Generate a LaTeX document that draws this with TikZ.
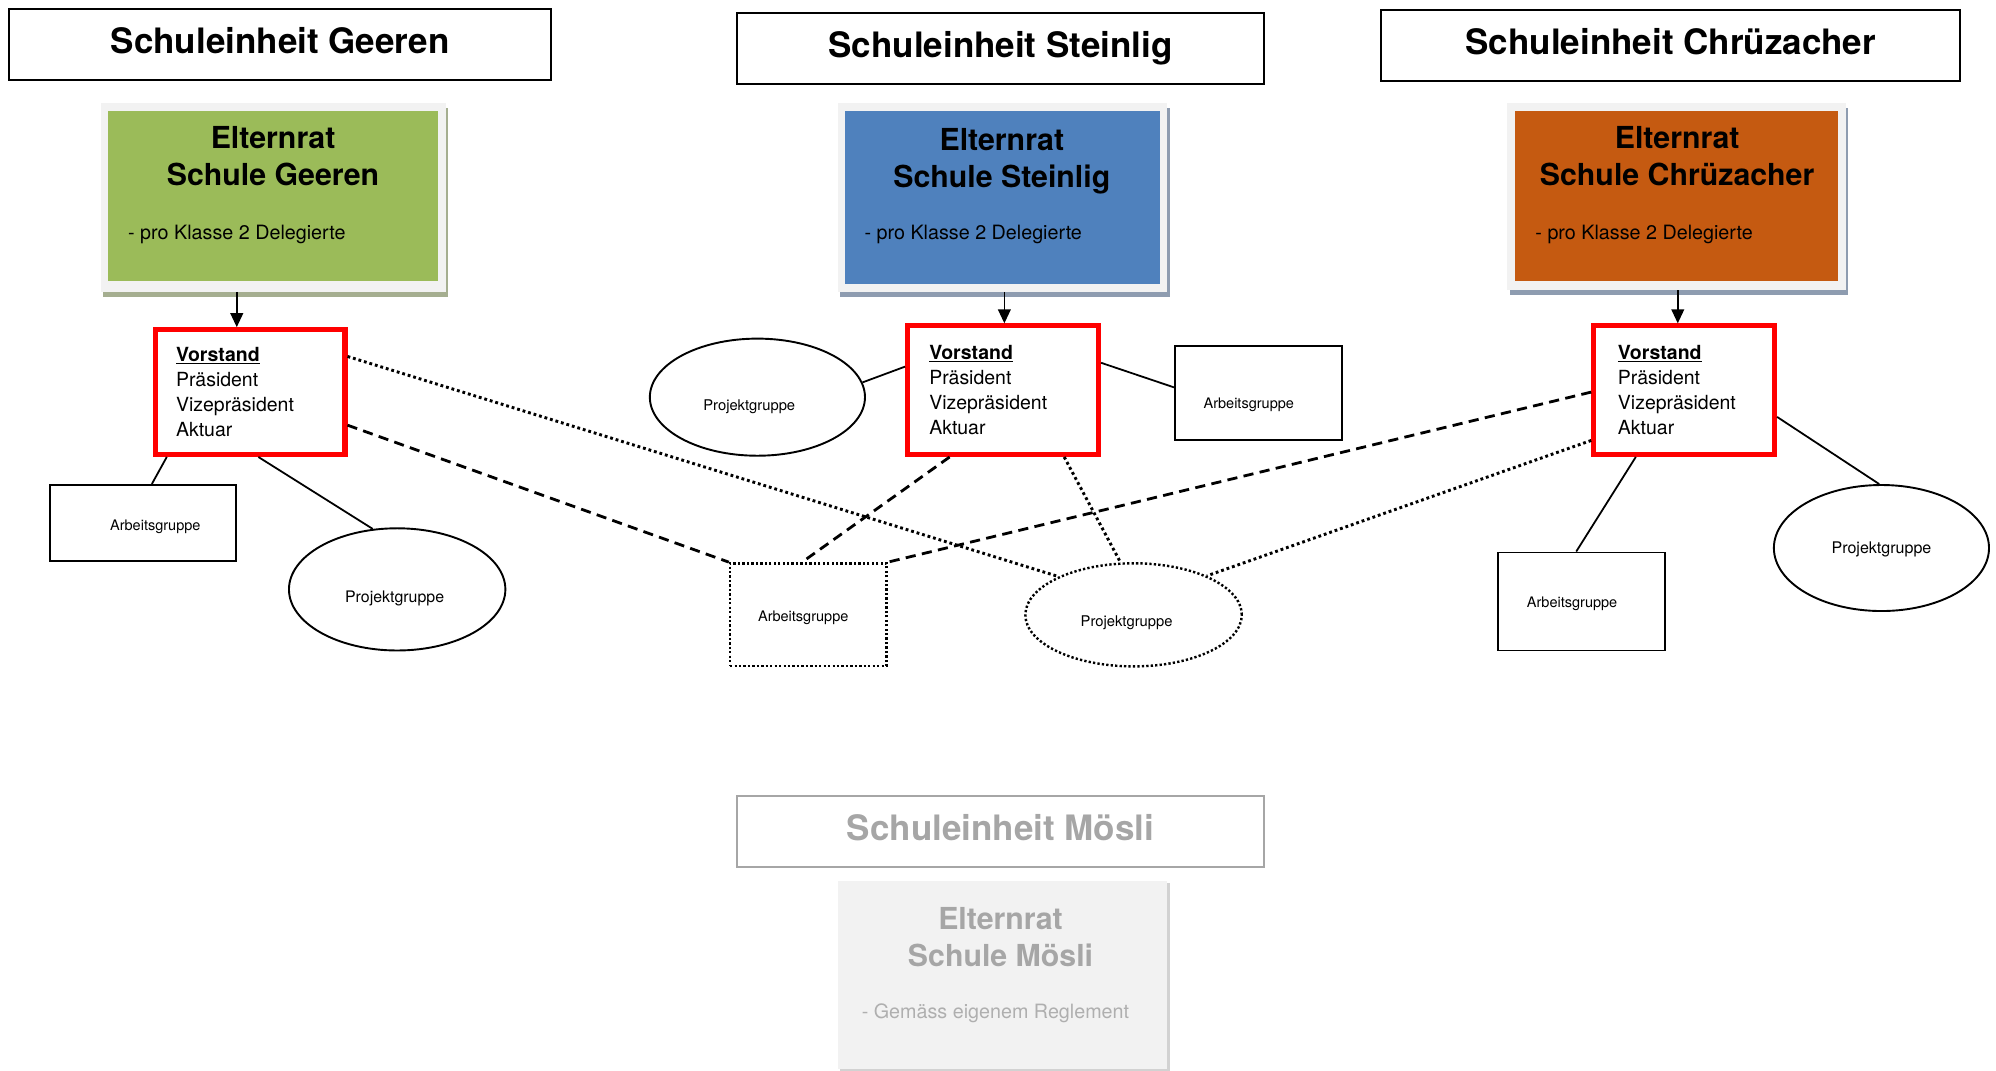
\documentclass[tikz,border=0pt]{standalone}
\usepackage{fontspec}
\setmainfont{TeX Gyre Heros}
\usetikzlibrary{arrows.meta,shapes.geometric,shadows}
\definecolor{egreen}{HTML}{9BBB59}
\definecolor{eblue}{HTML}{4F81BD}
\definecolor{eorange}{HTML}{C55A11}
\definecolor{frameg}{HTML}{F2F2F2}
\definecolor{shadowg}{HTML}{A5AE90}
\definecolor{shadowb}{HTML}{8E9CB0}
\definecolor{shadowm}{HTML}{D2D2D2}
\definecolor{moesli}{HTML}{A6A6A6}
\definecolor{vred}{HTML}{FF0000}
\newcommand\fsz[2]{\fontsize{#1}{#2}\selectfont}
% #1 horizontal (2*dx), #2 raise, #3 font size, #4 text
\newcommand\gtext[4]{\makebox[0pt]{\hspace*{#1}\raisebox{#2}[0pt][0pt]{\fsz{#3}{#3}#4}}}
\newcommand\vtext[1]{\parbox[t]{#1}{\fsz{15.3}{19.7}\underline{\textbf{Vorstand}}\\Präsident\\Vizepräsident\\Aktuar}}
\begin{document}
\begin{tikzpicture}[x=1pt,y=-1pt,
  titlebox/.style={draw=black,line width=1.5pt,inner sep=0,minimum height=56pt,
    text height=19.7pt,text depth=5.3pt,font=\fsz{27.5}{33}\bfseries},
  frame/.style={fill=frameg,inner sep=0},
  innerbox/.style={inner sep=0},
  etitle/.style={anchor=base,inner sep=0},
  esub/.style={anchor=base west,inner sep=0,font=\fsz{15.5}{18}},
  vbox/.style={draw=vred,line width=4pt,inner sep=0,fill=white,minimum height=98pt},
  grp/.style={draw=black,line width=1.5pt,inner sep=0},
  ell/.style={ellipse,draw=black,line width=1.5pt,inner sep=0},
  dotshape/.style={line width=1.9pt,dash pattern=on 1.8pt off 1.7pt},
  conn/.style={line width=1.4pt},
  dashconn/.style={line width=2.2pt,dash pattern=on 8pt off 5pt},
  dotconn/.style={line width=2.3pt,dash pattern=on 2.2pt off 2.3pt},
  arr/.style={line width=1.3pt,-{Triangle[width=10pt,length=11pt]}},
]
\useasboundingbox (0,0) rectangle (1568,841);

% ---- title boxes
\node[titlebox,minimum width=426pt] (tg) at (220,35) {Schuleinheit Geeren};
\node[titlebox,minimum width=414pt] (ts) at (786,38) {Schuleinheit Steinlig};
\node[titlebox,minimum width=455pt] (tc) at (1312.5,35.5) {Schuleinheit Chrüzacher};
\node[titlebox,minimum width=414pt,draw=moesli,text=moesli] (tm) at (786,653) {Schuleinheit Mösli};

% ---- Elternrat boxes
\node[frame,minimum width=271pt,minimum height=148pt,
  general shadow={shadow xshift=2pt,shadow yshift=-4pt,fill=shadowg}] (egf) at (214.5,155) {};
\node[innerbox,fill=egreen,minimum width=259pt,minimum height=134pt] (eg) at (214.5,154) {};
\node[etitle] (egt) at (214.5,117) {\parbox[t]{250pt}{\centering\fsz{23.8}{29}\bfseries Elternrat\\Schule Geeren}};
\node[esub] (egs) at (100.5,188) {- pro Klasse 2 Delegierte};

\node[frame,minimum width=259pt,minimum height=148pt,
  general shadow={shadow xshift=2pt,shadow yshift=-4pt,fill=shadowb}] (esf) at (787.5,155) {};
\node[innerbox,fill=eblue,minimum width=247pt,minimum height=136pt] (es) at (787.5,155) {};
\node[etitle] (est) at (787,118.6) {\parbox[t]{240pt}{\centering\fsz{23.8}{29}\bfseries Elternrat\\Schule Steinlig}};
\node[esub] (ess) at (679,188.5) {- pro Klasse 2 Delegierte};

\node[frame,minimum width=266pt,minimum height=147pt,
  general shadow={shadow xshift=2pt,shadow yshift=-4pt,fill=shadowb}] (ecf) at (1317,154.5) {};
\node[innerbox,fill=eorange,minimum width=254pt,minimum height=134pt] (ec) at (1317,154) {};
\node[etitle] (ect) at (1317.5,117) {\parbox[t]{250pt}{\centering\fsz{23.8}{29}\bfseries Elternrat\\Schule Chrüzacher}};
\node[esub] (ecs) at (1206,188) {- pro Klasse 2 Delegierte};

\node[frame,minimum width=259pt,minimum height=148pt,
  general shadow={shadow xshift=2pt,shadow yshift=-2pt,fill=shadowm}] (emf) at (787.5,766) {};
\node[etitle,text=moesli] (emt) at (786,730) {\parbox[t]{240pt}{\centering\fsz{23.8}{29}\bfseries Elternrat\\Schule Mösli}};
\node[anchor=base,inner sep=0,text=moesli!90,font=\fsz{15.5}{18}] (ems) at (782,800) {- Gemäss eigenem Reglement};

% ---- Vorstand boxes
\node[vbox,minimum width=149pt] (vg) at (196.5,308) {\vtext{116.4pt}};
\node[vbox,minimum width=150pt,minimum height=101pt] (vs) at (788,306.5) {\vtext{116pt}};
\node[vbox,minimum width=142pt,minimum height=101pt] (vc) at (1323,306.5) {\vtext{104pt}};

% ---- groups
\node[grp,minimum width=146.5pt,minimum height=59.5pt] (ag) at (112.3,410.7) {\gtext{19.4pt}{-5.9pt}{11.4}{Arbeitsgruppe}};
\node[grp,minimum width=131pt,minimum height=73.6pt] (sag) at (988.5,308.8) {\gtext{-15pt}{-12.3pt}{11.4}{Arbeitsgruppe}};
\node[grp,minimum width=131pt,minimum height=77pt] (ca) at (1242.5,472.5) {\gtext{-15pt}{-4.6pt}{11.4}{Arbeitsgruppe}};
\node[grp,dotshape,minimum width=123pt,minimum height=80.5pt] (sa) at (635,482.8) {\gtext{-8pt}{-5.1pt}{11.4}{Arbeitsgruppe}};

\node[ell,minimum width=170pt,minimum height=96pt] (pg) at (312,463) {\gtext{-4pt}{-10.5pt}{12.5}{Projektgruppe}};
\node[ell,minimum width=169pt,minimum height=92pt] (spg) at (595,312) {\gtext{-12.8pt}{-10.2pt}{11.6}{Projektgruppe}};
\node[ell,minimum width=169pt,minimum height=99pt] (cp) at (1478,430.5) {\gtext{0pt}{-4.5pt}{12.6}{Projektgruppe}};
\node[ell,dotshape,minimum width=170pt,minimum height=81pt] (sp) at (890.5,483) {\gtext{-11pt}{-9.2pt}{11.6}{Projektgruppe}};

% ---- arrows Elternrat -> Vorstand
\coordinate (ga) at ([xshift=-10.5pt]vg.north);
\coordinate (sa0) at ([xshift=1pt]vs.north);
\coordinate (ca0) at ([xshift=-5pt]vc.north);
\draw[arr] (ga |- egf.south) -- (ga);
\draw[arr] (sa0 |- esf.south) -- (sa0);
\draw[arr] (ca0 |- ecf.south) -- (ca0);

% ---- Geeren connectors
\draw[conn] ([xshift=11pt]vg.south west) -- ([xshift=81pt]ag.north west);
\draw[conn] ([xshift=83pt]vg.south west) -- (pg.112);
\draw[dotconn] ([yshift=-23pt]vg.north east) -- (sp.153);
\draw[dashconn] ([yshift=-26pt]vg.east) -- (sa.north west);

% ---- Steinlig connectors
\draw[conn] ([yshift=18.5pt]vs.west) -- (spg.8);
\draw[conn] ([yshift=21.5pt]vs.east) -- ([yshift=4.5pt]sag.west);
\draw[dashconn] ([xshift=35pt]vs.south west) -- ([xshift=57.5pt]sa.north west);
\draw[dotconn] ([xshift=125pt]vs.south west) -- (sp.104);

% ---- Chruezacher connectors
\draw[dashconn] ([yshift=-1.5pt]vc.west) -- (sa.north east);
\draw[dotconn] ([yshift=-39.5pt]vc.west) -- (sp.28);
\draw[conn] ([xshift=35pt]vc.south west) -- ([xshift=62pt]ca.north west);
\draw[conn] ([yshift=-21pt]vc.east) -- (cp.92);
\end{tikzpicture}
\end{document}
